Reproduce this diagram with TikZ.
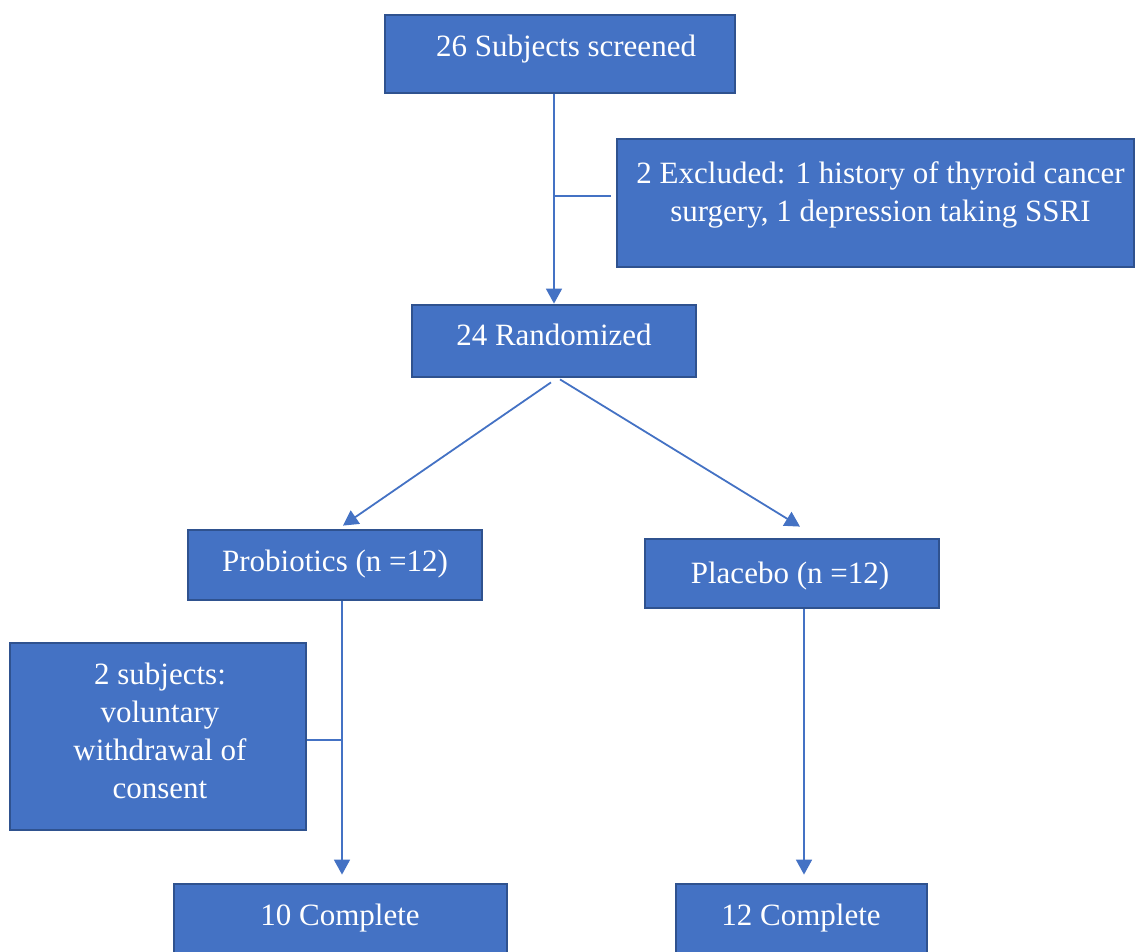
\documentclass[tikz,border=0pt]{standalone}
\usepackage{fontspec}
\setmainfont{Liberation Serif}
\usetikzlibrary{arrows.meta,calc}
\definecolor{boxfill}{HTML}{4472C4}
\definecolor{boxline}{HTML}{2F528F}
\definecolor{conncol}{HTML}{4472C4}
\begin{document}
\begin{tikzpicture}[x=1pt,y=-1pt,
  box/.style={draw=boxline, fill=boxfill, line width=2.8pt, rectangle, inner sep=0pt},
  txt/.style={text=white, font=\fontsize{31}{38}\selectfont, inner sep=0pt, anchor=base, align=center},
  conn/.style={draw=conncol, line width=1.8pt},
  arr/.style={conn, -{Triangle[length=15pt,width=16pt]}}]
\useasboundingbox (0,0) rectangle (1135,952);
\clip (0,0) rectangle (1135,952);
% boxes
\node[box, minimum width=350pt, minimum height=78pt] (screen) at (560,54) {};
\node[box, minimum width=517pt, minimum height=128pt] (excl) at (875.5,203) {};
\node[box, minimum width=284pt, minimum height=72pt] (rand) at (554,341) {};
\node[box, minimum width=294pt, minimum height=70pt] (prob) at (335,565) {};
\node[box, minimum width=294pt, minimum height=69pt] (plac) at (792,573.5) {};
\node[box, minimum width=296pt, minimum height=187pt] (withd) at (158,736.5) {};
\node[box, minimum width=333pt, minimum height=100pt] (c10) at (340.5,934) {};
\node[box, minimum width=251pt, minimum height=100pt] (c12) at (801.5,934) {};
% texts
\node[txt] (tscreen) at (566,57) {26 Subjects screened};
\node[txt, anchor=north] (texcl) at (880.5,161) {2 Excluded: 1 history of thyroid cancer\\surgery, 1 depression taking SSRI};
\node[txt] (trand) at (554,345) {24 Randomized};
\node[txt] (tprob) at (335,571) {Probiotics (n =12)};
\node[txt] (tplac) at (790,583) {Placebo (n =12)};
\node[txt, anchor=north] (twithd) at (160,663) {2 subjects:\\voluntary\\withdrawal of\\consent};
\node[txt] (tc10) at (340,925) {10 Complete};
\node[txt] (tc12) at (801,925) {12 Complete};
% connectors
\draw[arr] (screen.south -| rand.north) -- (rand.north);
\coordinate (j1) at ($(screen.south -| rand.north)!0.485!(rand.north)$);
\draw[conn] (j1) -- ($(j1 -| excl.west)+(-5pt,0)$);
\draw[arr] ($(rand.south)+(-3pt,-4pt)$) -- ($(prob.north)+(8pt,3pt)$);
\draw[arr] ($(rand.south)+(6pt,-1pt)$) -- ($(plac.north)+(8pt,11pt)$);
\draw[arr] ($(prob.south)+(7pt,0)$) -- ($(prob.south |- c10.north)+(7pt,8pt)$);
\draw[conn] ($(withd.east)+(0,-3.5pt)$) -- ($(withd.east -| prob.south)+(7pt,-3.5pt)$);
\draw[arr] ($(plac.south)+(12pt,0)$) -- ($(plac.south |- c12.north)+(12pt,8pt)$);
\end{tikzpicture}
\end{document}
